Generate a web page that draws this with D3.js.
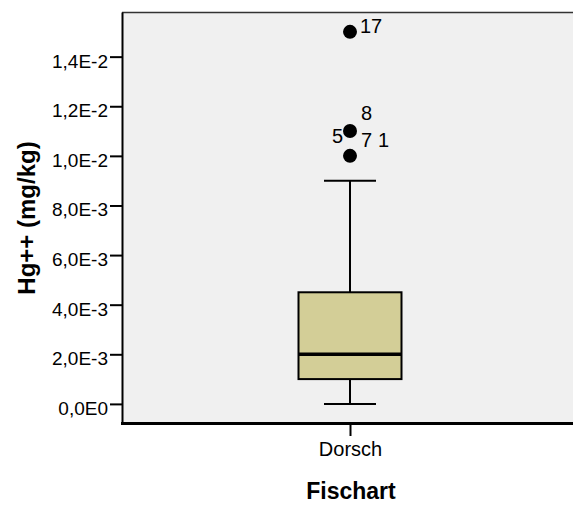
<!DOCTYPE html>
<html><head><meta charset="utf-8">
<script src="https://cdn.jsdelivr.net/npm/d3@7"></script>
<style>body{margin:0;background:#fff}svg{display:block}</style>
</head><body>
<script>
const categories = ["Dorsch"];
const boxStats = [{min:0, q1:0.001, median:0.002, q3:0.0045, max:0.009}];
const outliers = [
  {value:0.015, labels:[{t:"17", dx:10, dy:1}]},
  {value:0.011, labels:[{t:"8", dx:11, dy:-11},{t:"5", dx:-18, dy:12}]},
  {value:0.010, labels:[{t:"7", dx:11, dy:-9},{t:"1", dx:28, dy:-9}]}
];
const yTicks = [0,0.002,0.004,0.006,0.008,0.010,0.012,0.014];
const yTickLabels = ["0,0E0","2,0E-3","4,0E-3","6,0E-3","8,0E-3","1,0E-2","1,2E-2","1,4E-2"];

(function(){
const W=573,H=506;
const mL=122, mR=573, mT=12, mB=423;
const svg=d3.select("body").append("svg").attr("width",W).attr("height",H)
  .style("font-family","Arial, Liberation Sans, sans-serif");
const y=d3.scaleLinear().domain([-0.00077,0.0158]).range([mB,mT]);
const x=d3.scalePoint().domain(categories).range([350,350]);

svg.append("rect").attr("x",mL).attr("y",mT).attr("width",mR-mL).attr("height",mB-mT).attr("fill","#f0f0f0");
svg.append("line").attr("x1",mL).attr("x2",mR).attr("y1",mT+0.5).attr("y2",mT+0.5).attr("stroke","#333").attr("stroke-width",1.5);

const yAxis=d3.axisLeft(y).tickValues(yTicks).tickFormat((d,i)=>yTickLabels[i]).tickSize(12).tickPadding(2).tickSizeOuter(0);
const ga=svg.append("g").attr("transform",`translate(${mL},0)`).call(yAxis);
ga.attr("font-size",null).attr("font-family",null);
ga.select(".domain").attr("stroke","#000").attr("stroke-width",2);
ga.selectAll(".tick line").attr("stroke","#000").attr("stroke-width",2);
ga.selectAll(".tick text").attr("font-size",19).attr("fill","#000").attr("dy","0.55em");

const xAxis=d3.axisBottom(x).tickSize(13).tickPadding(6).tickSizeOuter(0);
const gx=svg.append("g").attr("transform",`translate(0,${mB})`).call(xAxis);
gx.attr("font-size",null).attr("font-family",null);
gx.select(".domain").remove();
svg.append("line").attr("x1",mL-1).attr("x2",mR).attr("y1",mB+0.5).attr("y2",mB+0.5).attr("stroke","#000").attr("stroke-width",3);
gx.selectAll(".tick line").attr("stroke","#000").attr("stroke-width",2);
gx.selectAll(".tick text").attr("font-size",20).attr("fill","#000");

const cx=x(categories[0]), bw=103, cw=52;
boxStats.forEach(s=>{
  const g=svg.append("g");
  g.append("line").attr("x1",cx).attr("x2",cx).attr("y1",y(s.max)).attr("y2",y(s.q3)).attr("stroke","#000").attr("stroke-width",2);
  g.append("line").attr("x1",cx).attr("x2",cx).attr("y1",y(s.q1)).attr("y2",y(s.min)).attr("stroke","#000").attr("stroke-width",2);
  g.append("line").attr("x1",cx-cw/2).attr("x2",cx+cw/2).attr("y1",y(s.max)).attr("y2",y(s.max)).attr("stroke","#000").attr("stroke-width",2);
  g.append("line").attr("x1",cx-cw/2).attr("x2",cx+cw/2).attr("y1",y(s.min)).attr("y2",y(s.min)).attr("stroke","#000").attr("stroke-width",2);
  g.append("rect").attr("x",cx-bw/2).attr("y",y(s.q3)).attr("width",bw).attr("height",y(s.q1)-y(s.q3))
    .attr("fill","#d3ce97").attr("stroke","#000").attr("stroke-width",2);
  g.append("line").attr("x1",cx-bw/2).attr("x2",cx+bw/2).attr("y1",y(s.median)).attr("y2",y(s.median)).attr("stroke","#000").attr("stroke-width",3.5);
});

outliers.forEach(o=>{
  const py=y(o.value);
  svg.append("circle").attr("cx",cx).attr("cy",py).attr("r",7).attr("fill","#000");
  o.labels.forEach(l=>{
    svg.append("text").attr("x",cx+l.dx).attr("y",py+l.dy).attr("font-size",20).attr("fill","#000").text(l.t);
  });
});

svg.append("text").attr("transform","translate(35,218) rotate(-90)").attr("text-anchor","middle")
  .attr("font-size",24).attr("font-weight","bold").text("Hg++ (mg/kg)");
svg.append("text").attr("x",351).attr("y",499).attr("text-anchor","middle")
  .attr("font-size",23).attr("font-weight","bold").text("Fischart");
})();
</script>
</body></html>
